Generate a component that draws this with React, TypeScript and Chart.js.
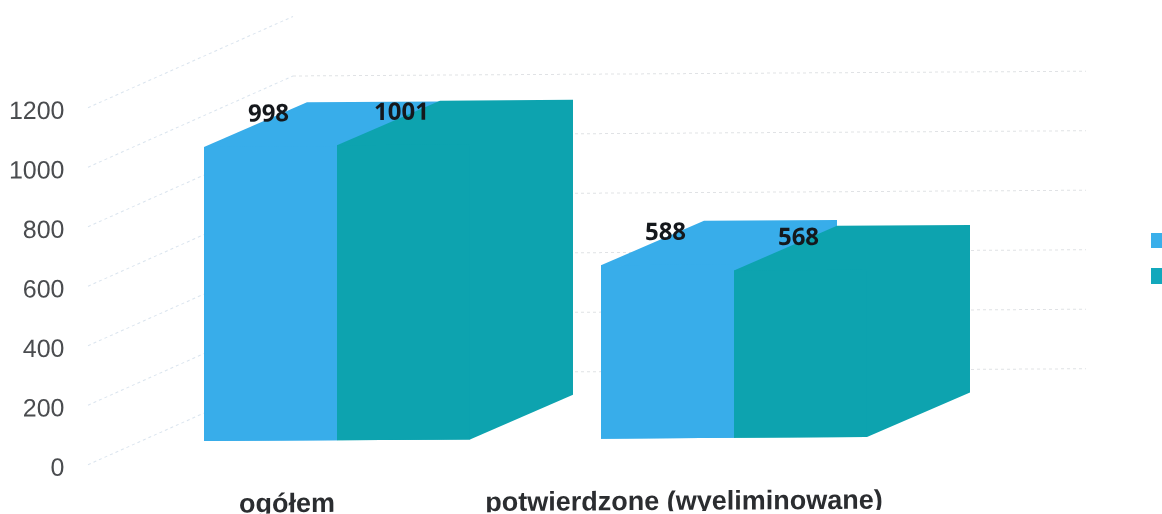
import React, { useEffect, useRef } from "react";
import { Chart, registerables } from "chart.js";

Chart.register(...registerables);

const categories = ["ogółem", "potwierdzone (wyeliminowane)"];
const seriesA = [998, 588];
const seriesB = [1001, 568];
const seriesColors = ["#38ADEA", "#0DA3AF"];
const legendColors = ["#3AAFEA", "#12A8BC"];
const yTicks = { min: 0, max: 1200, step: 200 };

const DEPTH_X = 103;
const DEPTH_Y = 44;

const scanTilt = {
  id: "scanTilt",
  beforeDraw(chart: any) {
    chart.ctx.save();
    chart.ctx.transform(1, -0.006, 0, 1, 0, 1.224);
  },
  afterDraw(chart: any) {
    chart.ctx.restore();
  },
};

const wallGrid = {
  id: "wallGrid",
  beforeDatasetsDraw(chart: any) {
    const { ctx } = chart;
    const sc = chart.scales.y;
    ctx.save();
    ctx.lineWidth = 1;
    ctx.setLineDash([3, 3]);
    sc.ticks.forEach((t: any) => {
      const y = sc.getPixelForValue(t.value);
      const yFront = y - 4;
      const yBack = y - 94;
      ctx.strokeStyle = "rgba(150,178,205,0.35)";
      ctx.beginPath();
      ctx.moveTo(88, yFront);
      ctx.lineTo(293, yBack);
      ctx.stroke();
      if (t.value < yTicks.max) {
        ctx.strokeStyle = "rgba(165,172,180,0.35)";
        ctx.beginPath();
        ctx.moveTo(293, yBack);
        ctx.lineTo(1086, yBack);
        ctx.stroke();
      }
    });
    ctx.restore();
  },
};

const boxes3d = {
  id: "boxes3d",
  beforeDatasetsDraw(chart: any) {
    const { ctx } = chart;
    chart.data.datasets.forEach((ds: any, i: number) => {
      chart.getDatasetMeta(i).data.forEach((bar: any) => {
        const x0 = bar.x - bar.width / 2;
        const x1 = bar.x + bar.width / 2;
        const top = bar.y;
        const base = bar.base;
        ctx.fillStyle = ds.backgroundColor;
        ctx.beginPath();
        ctx.moveTo(x0, top);
        ctx.lineTo(x0 + DEPTH_X, top - DEPTH_Y);
        ctx.lineTo(x1 + DEPTH_X, top - DEPTH_Y);
        ctx.lineTo(x1 + DEPTH_X, base - DEPTH_Y);
        ctx.lineTo(x1, base);
        ctx.lineTo(x0, base);
        ctx.closePath();
        ctx.fill();
      });
    });
  },
  afterDatasetsDraw(chart: any) {
    const { ctx } = chart;
    ctx.save();
    ctx.font = "bold 24px 'Open Sans'";
    ctx.fillStyle = "#15181c";
    ctx.textAlign = "center";
    ctx.textBaseline = "middle";
    chart.data.datasets.forEach((ds: any, i: number) => {
      chart.getDatasetMeta(i).data.forEach((bar: any, j: number) => {
        ctx.fillText(String(ds.data[j]), bar.x - 2, bar.y - 32);
      });
    });
    ctx.restore();
  },
};

const legendSwatches = {
  id: "legendSwatches",
  afterDraw(chart: any) {
    const { ctx } = chart;
    ctx.save();
    ctx.fillStyle = legendColors[0];
    ctx.fillRect(1151, 233, 11, 15);
    ctx.fillStyle = legendColors[1];
    ctx.fillRect(1151, 268, 11, 16);
    ctx.restore();
  },
};

export default function App() {
  const ref = useRef<HTMLCanvasElement>(null);
  useEffect(() => {
    document.body.style.margin = "0";
    document.body.style.background = "#ffffff";
    const chart = new Chart(ref.current!, {
      type: "bar",
      data: {
        labels: categories,
        datasets: [
          { data: seriesA, backgroundColor: seriesColors[0], yAxisID: "yBars" },
          { data: seriesB, backgroundColor: seriesColors[1], yAxisID: "yBars" },
        ],
      },
      plugins: [scanTilt, wallGrid, boxes3d, legendSwatches],
      options: {
        responsive: false,
        animation: false,
        layout: { padding: { left: 0, right: 229.5, top: 111, bottom: 0 } },
        datasets: { bar: { barPercentage: 1, categoryPercentage: 0.67 } },
        plugins: { legend: { display: false }, tooltip: { enabled: false } },
        scales: {
          x: {
            grid: { display: false },
            border: { display: false },
            afterFit: (s: any) => { s.height = 46; },
            ticks: {
              color: "#2b2d30",
              font: { family: "'Liberation Sans'", size: 27, weight: "bold" },
              labelOffset: -50,
              padding: 13,
              maxRotation: 0,
              autoSkip: false,
            },
          },
          y: {
            min: yTicks.min,
            max: yTicks.max,
            grid: { display: false },
            border: { display: false },
            afterFit: (s: any) => {
              s.width = 138.5;
              s.paddingTop = 0;
              s.paddingBottom = 0;
            },
            ticks: {
              stepSize: yTicks.step,
              color: "#4a4c4f",
              font: { family: "'Liberation Sans'", size: 25 },
              padding: 66,
              callback: (v: any) => String(v),
            },
          },
          yBars: {
            display: false,
            position: "left",
            min: -91.6,
            max: 1120,
          },
        },
      },
    } as any);
    return () => chart.destroy();
  }, []);
  return <canvas ref={ref} width={1162} height={514} style={{ display: "block" }} />;
}
